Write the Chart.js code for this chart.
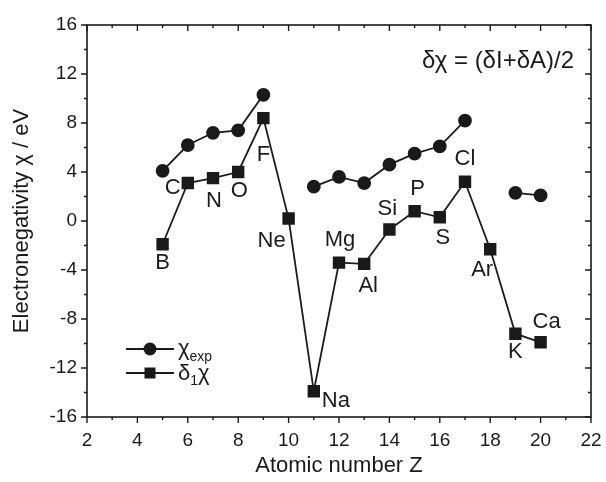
<!DOCTYPE html>
<html><head><meta charset="utf-8">
<script src="https://cdn.jsdelivr.net/npm/chart.js@4.4.1/dist/chart.umd.min.js"></script>
<style>html,body{margin:0;padding:0;background:#fff}#wrap{width:606px;height:482px;position:relative}</style>
</head><body><div id="wrap"><canvas id="c"></canvas></div>
<script>
// ---- data ----
const atomicNumbers = [5, 6, 7, 8, 9, 10, 11, 12, 13, 14, 15, 16, 17, 18, 19, 20];
const elements = ['B', 'C', 'N', 'O', 'F', 'Ne', 'Na', 'Mg', 'Al', 'Si', 'P', 'S', 'Cl', 'Ar', 'K', 'Ca'];
const chiExp = [4.1, 6.2, 7.2, 7.4, 10.3, null, 2.8, 3.6, 3.1, 4.6, 5.5, 6.1, 8.2, null, 2.3, 2.1];
const delta1Chi = [-1.9, 3.1, 3.5, 4.0, 8.4, 0.2, -13.9, -3.4, -3.5, -0.7, 0.8, 0.3, 3.2, -2.3, -9.2, -9.9];
const xTickValues = [2, 4, 6, 8, 10, 12, 14, 16, 18, 20, 22];
const yTickValues = [-16, -12, -8, -4, 0, 4, 8, 12, 16];

// ---- label placement (styling) ----
const labelOffsets = [[0,19],[-15,5],[1,23],[1,19],[0,37],[-17,22],[22,10],[1,-23],[4,22],[-2,-21],[3,-22],[3,21],[0,-23],[-8,21],[0,18],[6,-20]];

const FONT = "'Liberation Sans', Arial, sans-serif";
const INK = '#1a1a1a';
Chart.defaults.font.family = FONT;
Chart.defaults.color = INK;

const framePlugin = {
  id: 'frame',
  afterDraw(chart) {
    const {ctx, chartArea: a, scales: {x, y}} = chart;
    ctx.save();
    ctx.strokeStyle = INK;
    ctx.lineWidth = 1.6;
    ctx.strokeRect(a.left, a.top, a.right - a.left, a.bottom - a.top);
    ctx.lineWidth = 1.4;
    ctx.beginPath();
    for (let v = x.min; v <= x.max; v++) {
      const px = x.getPixelForValue(v);
      const L = v % 2 === 0 ? 6 : 3;
      ctx.moveTo(px, a.bottom); ctx.lineTo(px, a.bottom + L);
      ctx.moveTo(px, a.top); ctx.lineTo(px, a.top + L);
    }
    for (let v = y.min; v <= y.max; v += 2) {
      const py = y.getPixelForValue(v);
      const L = v % 4 === 0 ? 6 : 3;
      ctx.moveTo(a.left, py); ctx.lineTo(a.left - L, py);
      ctx.moveTo(a.right, py); ctx.lineTo(a.right - L, py);
    }
    ctx.stroke();
    ctx.restore();
  }
};

const annotPlugin = {
  id: 'annot',
  afterDatasetsDraw(chart) {
    const {ctx, chartArea: a} = chart;
    const meta = chart.getDatasetMeta(1);
    ctx.save();
    ctx.fillStyle = INK;
    ctx.textAlign = 'center';
    ctx.textBaseline = 'middle';
    ctx.font = '22px ' + FONT;
    meta.data.forEach((pt, i) => {
      const [dx, dy] = labelOffsets[i];
      ctx.fillText(elements[i], pt.x + dx, pt.y + dy);
    });
    // formula
    ctx.font = '24px ' + FONT;
    ctx.fillText('δχ = (δI+δA)/2', a.right - 93, a.top + 36);
    // legend
    const lx0 = a.left + 39, lx1 = a.left + 87, lxm = (lx0 + lx1) / 2;
    const r1 = a.bottom - 68, r2 = a.bottom - 44;
    ctx.strokeStyle = INK; ctx.lineWidth = 1.8;
    ctx.beginPath();
    ctx.moveTo(lx0, r1); ctx.lineTo(lx1, r1);
    ctx.moveTo(lx0, r2); ctx.lineTo(lx1, r2);
    ctx.stroke();
    ctx.beginPath(); ctx.arc(lxm, r1, 6.5, 0, Math.PI * 2); ctx.fill();
    ctx.fillRect(lxm - 5.5, r2 - 5.5, 11, 11);
    ctx.textAlign = 'left';
    ctx.textBaseline = 'alphabetic';
    const tx = lx1 + 4;
    ctx.font = '22px ' + FONT;
    ctx.fillText('χ', tx, r1 + 6);
    let w = ctx.measureText('χ').width;
    ctx.font = '14px ' + FONT;
    ctx.fillText('exp', tx + w, r1 + 12);
    ctx.font = '22px ' + FONT;
    ctx.fillText('δ', tx, r2 + 7);
    w = ctx.measureText('δ').width;
    ctx.font = '14px ' + FONT;
    ctx.fillText('1', tx + w, r2 + 12);
    const w2 = ctx.measureText('1').width;
    ctx.font = '22px ' + FONT;
    ctx.fillText('χ', tx + w + w2, r2 + 7);
    ctx.restore();
  }
};

new Chart(document.getElementById('c'), {
  type: 'line',
  data: {
    labels: atomicNumbers,
    datasets: [
      {
        label: 'χexp',
        data: atomicNumbers.map((z, i) => ({x: z, y: chiExp[i]})),
        borderColor: INK, backgroundColor: INK, borderWidth: 1.8,
        pointStyle: 'circle', pointRadius: 6, pointHoverRadius: 6,
        spanGaps: false, tension: 0
      },
      {
        label: 'δ1χ',
        data: atomicNumbers.map((z, i) => ({x: z, y: delta1Chi[i]})),
        borderColor: INK, backgroundColor: INK, borderWidth: 1.8,
        pointStyle: 'rect', pointRadius: 7.5, pointHoverRadius: 7.5,
        tension: 0
      }
    ]
  },
  options: {
    responsive: true, maintainAspectRatio: false, animation: false,
    layout: {padding: {top: 25, right: 15, left: 0, bottom: 0}},
    plugins: {legend: {display: false}, tooltip: {enabled: false}},
    scales: {
      x: {
        type: 'linear', min: 2, max: 22,
        afterBuildTicks: s => { s.ticks = xTickValues.map(v => ({value: v})); },
        afterFit: s => { s.height = 65; s.paddingLeft = 0; s.paddingRight = 0; },
        grid: {display: false, drawTicks: false},
        border: {display: false},
        ticks: {font: {size: 19}, padding: 12, maxRotation: 0, autoSkip: false, callback: v => String(v)},
        title: {display: true, text: 'Atomic number Z', font: {size: 22, lineHeight: 1.2}, padding: {top: 0, bottom: 3}}
      },
      y: {
        type: 'linear', min: -16, max: 16,
        afterBuildTicks: s => { s.ticks = yTickValues.map(v => ({value: v})); },
        afterFit: s => { s.width = 87; s.paddingTop = 0; s.paddingBottom = 0; },
        grid: {display: false, drawTicks: false},
        border: {display: false},
        ticks: {font: {size: 19}, padding: 10, autoSkip: false, callback: v => String(v)},
        title: {display: true, text: 'Electronegativity χ / eV', font: {size: 22, lineHeight: 1.2}, padding: {top: 9, bottom: 0}}
      }
    }
  },
  plugins: [framePlugin, annotPlugin]
});
</script>
</body></html>
